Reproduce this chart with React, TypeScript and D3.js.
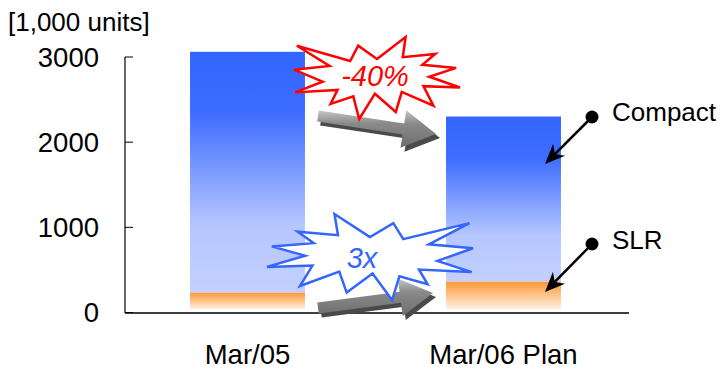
import React from "react";
import * as d3 from "d3";

const categories = ["Mar/05", "Mar/06 Plan"];
const slrValues = [190, 320];
const compactValues = [2830, 1940];
const yTicks = [0, 1000, 2000, 3000];
const unitLabel = "[1,000 units]";
const seriesLabels = ["Compact", "SLR"];
const reductionLabel = "-40%";
const growthLabel = "3x";

// Explosion shape (normalized 0..1) – decoration outline
const burstPts: [number, number][] = [
  [10800, 5800], [14522, 0], [14155, 5325], [18380, 4457], [16702, 7315], [21097, 8137],
  [17607, 10475], [21600, 13290], [16837, 12942], [18145, 18095], [14020, 14457], [13247, 19737],
  [10532, 14935], [8485, 21600], [7715, 15627], [4762, 17617], [5667, 13937], [135, 14587],
  [3722, 11775], [0, 8615], [4627, 7617], [370, 2295], [7312, 6320], [8352, 2295],
].map(([a, b]) => [a / 21600, b / 21600] as [number, number]);

const W = 721;
const H = 369;
const FONT = "Arial, 'Liberation Sans', sans-serif";

function burstPath(x0: number, y0: number, w: number, h: number, flip = false) {
  const pts = burstPts.map(([u, v]) => [x0 + (flip ? 1 - u : u) * w, y0 + v * h] as [number, number]);
  return d3.line()(pts) + "Z";
}

function blockArrow(x0: number, y0: number, x1: number, y1: number, s: number, hw: number, hl: number) {
  const dx = x1 - x0, dy = y1 - y0;
  const L = Math.hypot(dx, dy);
  const ux = dx / L, uy = dy / L;
  const nx = -uy, ny = ux;
  const nkx = x1 - ux * hl, nky = y1 - uy * hl;
  const pts: [number, number][] = [
    [x0 + nx * s / 2, y0 + ny * s / 2],
    [nkx + nx * s / 2, nky + ny * s / 2],
    [nkx + nx * hw / 2, nky + ny * hw / 2],
    [x1, y1],
    [nkx - nx * hw / 2, nky - ny * hw / 2],
    [nkx - nx * s / 2, nky - ny * s / 2],
    [x0 - nx * s / 2, y0 - ny * s / 2],
  ];
  return d3.line()(pts) + "Z";
}

function annot(x0: number, y0: number, x1: number, y1: number) {
  const dx = x1 - x0, dy = y1 - y0;
  const L = Math.hypot(dx, dy);
  const ux = dx / L, uy = dy / L;
  const nx = -uy, ny = ux;
  const hl = 20, hw = 17;
  const bx = x1 - ux * hl, by = y1 - uy * hl;
  const head = d3.line()([
    [x1, y1],
    [bx + nx * hw / 2, by + ny * hw / 2],
    [x1 - ux * hl * 0.7, y1 - uy * hl * 0.7],
    [bx - nx * hw / 2, by - ny * hw / 2],
  ]) + "Z";
  return (
    <g>
      <line x1={x0} y1={y0} x2={x1 - ux * hl * 0.7} y2={y1 - uy * hl * 0.7} stroke="#000" strokeWidth={2.5} />
      <path d={head} fill="#000" />
      <circle cx={x0} cy={y0} r={6.5} fill="#000" />
    </g>
  );
}

export default function App() {
  const y = d3.scaleLinear().domain([0, 3000]).range([312.5, 57]);
  const x = d3.scaleBand<string>().domain(categories).range([119.5, 631.5]).paddingInner(0.551).paddingOuter(0.2755);
  const bw = x.bandwidth();
  const gap = 3.5;
  const axisY = 313;

  return (
    <svg width={W} height={H} style={{ position: "absolute", left: 0, top: 0, background: "#fff" }} fontFamily={FONT}>
      <defs>
        <linearGradient id="gBlue" x1="0" y1="0" x2="0" y2="1">
          <stop offset="0" stopColor="#3366FF" />
          <stop offset="0.25" stopColor="#3d6cff" />
          <stop offset="0.72" stopColor="#b6c6ff" />
          <stop offset="1" stopColor="#c3d0ff" />
        </linearGradient>
        <linearGradient id="gOrange" x1="0" y1="0" x2="0" y2="1">
          <stop offset="0" stopColor="#ff9933" />
          <stop offset="1" stopColor="#fff0e4" />
        </linearGradient>
        <linearGradient id="gGrey" x1="0" y1="0" x2="0" y2="1">
          <stop offset="0" stopColor="#c8c8c8" />
          <stop offset="0.35" stopColor="#8a8a8a" />
          <stop offset="1" stopColor="#6e6e6e" />
        </linearGradient>
      </defs>

      {/* unit label */}
      <text x={8} y={31} fontSize={26} fill="#000">{unitLabel}</text>

      {/* y axis */}
      <line x1={125} y1={y(3000)} x2={125} y2={axisY} stroke="#000" strokeWidth={1.2} />
      {yTicks.map((t) => (
        <g key={t}>
          <line x1={125} x2={133} y1={y(t)} y2={y(t)} stroke="#000" strokeWidth={1} />
          <text x={99} y={y(t)} fontSize={27.5} textAnchor="end" dominantBaseline="central" fill="#000">{t}</text>
        </g>
      ))}

      {/* bars */}
      {categories.map((c, i) => {
        const x0 = x(c)!;
        const total = slrValues[i] + compactValues[i];
        return (
          <g key={c}>
            <rect x={x0} y={y(total) - gap} width={bw} height={y(slrValues[i]) - y(total)} fill="url(#gBlue)" />
            <rect x={x0} y={y(slrValues[i]) - gap} width={bw} height={y(0) - y(slrValues[i])} fill="url(#gOrange)" />
          </g>
        );
      })}

      {/* x axis */}
      <line x1={125} x2={629} y1={axisY} y2={axisY} stroke="#000" strokeWidth={1.5} />
      {categories.map((c) => (
        <text key={c} x={x(c)! + bw / 2} y={364} fontSize={27.5} textAnchor="middle" fill="#000">{c}</text>
      ))}

      {/* grey arrows */}
      <path d={blockArrow(321, 120, 440, 138, 11, 38, 33)} fill="#4a4a4a" />
      <path d={blockArrow(318, 116, 436, 134, 11, 38, 33)} fill="url(#gGrey)" />
      <path d={blockArrow(321, 312, 436, 297, 11, 38, 33)} fill="#4a4a4a" />
      <path d={blockArrow(318, 308, 433, 293, 11, 38, 33)} fill="url(#gGrey)" />

      {/* bursts */}
      <path d={burstPath(294, 37, 166, 82)} fill="#fff" stroke="#ff0000" strokeWidth={2.5} strokeLinejoin="miter" />
      <text x={375} y={86} fontSize={29} fontStyle="italic" textAnchor="middle" fill="#ff0000">{reductionLabel}</text>
      <path d={burstPath(267, 214, 206, 86, true)} fill="#fff" stroke="#3366FF" strokeWidth={2.5} strokeLinejoin="miter" />
      <text x={362} y={268} fontSize={29} fontStyle="italic" textAnchor="middle" fill="#3366FF">{growthLabel}</text>

      {/* annotations */}
      {annot(592, 117, 545, 164)}
      {annot(592, 244, 545, 292)}
      <text x={612} y={121} fontSize={26} fill="#000">{seriesLabels[0]}</text>
      <text x={612} y={249} fontSize={26} fill="#000">{seriesLabels[1]}</text>
    </svg>
  );
}
